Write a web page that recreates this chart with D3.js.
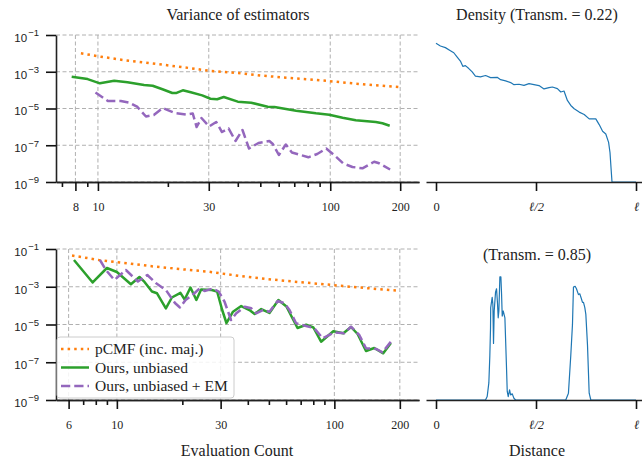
<!DOCTYPE html>
<html>
<head>
<meta charset="utf-8">
<script src="https://cdn.jsdelivr.net/npm/d3@7"></script>
<style>
  body { margin: 0; background: #fff; }
  svg { font-family: "Liberation Serif", "DejaVu Serif", serif; }
</style>
</head>
<body>
<svg id="chart" width="642" height="460"></svg>
<script>
// ---- data ----

// top row: variance vs evaluation count
const topPcmfN = [8.45, 10.3, 12.8, 15.6, 19.0, 23.4, 29.9, 41.5, 51.1, 64.7, 79.6, 99, 124, 157, 202];
const topPcmfV = [1.01e-2, 6.6e-3, 4.36e-3, 3.27e-3, 2.42e-3, 1.75e-3, 1.14e-3, 8.2e-4, 6.1e-4, 4.75e-4, 3.9e-4, 3.1e-4, 2.35e-4, 1.83e-4, 1.43e-4];

const topOursN = [7.71, 9.03, 10.2, 11.75, 13.4, 15.8, 17.2, 18.96, 20.9, 21.8, 23.2, 25.1, 28.1, 30.5, 32.6, 34.8,
                  40.0, 45.7, 53.8, 57.5, 71.3, 86.8, 99, 113, 128.8, 157, 167.7, 180.3];
const topOursV = [5.4e-4, 4.0e-4, 2.35e-4, 3.26e-4, 2.67e-4, 1.9e-4, 1.74e-4, 1.11e-4, 7.0e-5, 7.0e-5, 9.8e-5, 7.6e-5, 5.2e-5, 3.4e-5, 3.2e-5, 4.2e-5,
                  2.35e-5, 2.07e-5, 1.25e-5, 1.21e-5, 7.6e-6, 5.5e-6, 4.6e-6, 3.15e-6, 2.28e-6, 1.84e-6, 1.57e-6, 1.16e-6];

const topEmN = [9.76, 11.04, 12.55, 13.6, 14.8, 16.1, 17.4, 19.0, 21.4, 24.1, 25.6, 26.6, 27.9, 30.1, 32.3, 34.2, 36.5, 39.1,
                41.9, 44.7, 49.1, 54.7, 56.6, 60.1, 64.4, 68.4, 80.5, 87.9, 96.1, 105, 113.7, 124.6, 137.6, 154.5, 162.3, 181];
const topEmV = [7.43e-5, 2.56e-5, 2.56e-5, 2.12e-5, 1.21e-5, 3.67e-6, 4.43e-6, 1.06e-5, 5.7e-6, 4.71e-6, 5.35e-6, 9.8e-7, 3.04e-6, 1.05e-6, 1.84e-6, 5.26e-7, 8.2e-7, 1.7e-7,
                6.76e-7, 6.65e-8, 1.33e-7, 1.7e-7, 1.17e-7, 2.95e-8, 1.1e-7, 4.03e-8, 2.21e-8, 3.34e-8, 6.65e-8, 2.6e-8, 1.02e-8, 6.55e-9, 5.57e-9, 1.27e-8, 1.04e-8, 4.79e-9];

// bottom row
const botPcmfN = [6.22, 8.27, 11.2, 15.1, 20.0, 26.5, 36.7, 48.6, 65.5, 86.9, 117.2, 158, 198.7];
const botPcmfV = [4.53e-2, 2.61e-2, 1.75e-2, 1.15e-2, 8.4e-3, 6.27e-3, 3.71e-3, 2.58e-3, 1.85e-3, 1.4e-3, 1.01e-3, 7.6e-4, 6.18e-4];

const botOursN = [6.35, 7.74, 9.0, 10.0, 11.6, 12.7, 13.4, 14.5, 15.3, 16.8, 17.9, 19.6, 20.5, 21.8, 23.2, 24.4, 27.3, 28.9, 30.5, 31.9,
                  34.2, 37.3, 40.7, 43.0, 46.1, 50.3, 55.3, 60.2, 67.7, 74.2, 80.1, 86.9, 98.9, 110, 119.3, 127.9, 139.8, 152.6, 167.8, 182];
const botOursV = [2.61e-2, 1.68e-3, 9.85e-3, 6.04e-3, 1.36e-3, 3.29e-3, 1.79e-3, 5.6e-4, 4.5e-4, 7.2e-5, 2.69e-4, 4.78e-4, 2.11e-4, 9.1e-4, 1.99e-4, 7.15e-4, 6.73e-4, 5.6e-4, 5.86e-5, 1.2e-5,
                  4.77e-5, 9.55e-5, 5.86e-5, 3.6e-5, 6.62e-5, 4.07e-5, 1.99e-4, 9.0e-5, 6.53e-6, 9.75e-6, 6.93e-6, 1.23e-6, 4.42e-6, 3.42e-6, 7.38e-6, 3.14e-6, 3.94e-7, 5.69e-7, 2.98e-7, 1.05e-6];

const botEmN = [8.36, 8.9, 9.74, 11.0, 12.5, 13.8, 15.1, 16.8, 18.5, 19.5, 20.7, 21.6, 22.8, 24.0, 25.3, 27.6, 29.4, 31.3, 33.5, 35.4,
                38.7, 41.5, 43.7, 46.9, 50.3, 54.9, 58.9, 62.2, 66.7, 74.2, 80.9, 88.4, 100, 111, 119.3, 130.2, 139.8, 155.4, 166.6, 182];
const botEmV = [2.61e-2, 7.72e-3, 2.28e-3, 7.72e-3, 1.9e-3, 4.19e-3, 1.58e-3, 6.73e-4, 1.38e-4, 7.96e-5, 1.99e-4, 2.86e-4, 4.67e-4, 8.07e-4, 5.96e-4, 8.07e-4, 5.6e-4, 1.56e-4, 1.73e-5, 3.92e-5,
                8.77e-5, 7.2e-5, 3.92e-5, 5.86e-5, 4.77e-5, 1.76e-4, 1.33e-4, 5.86e-5, 1.16e-5, 8.33e-6, 6.3e-6, 1.86e-6, 3.86e-6, 3.42e-6, 7.64e-6, 2.78e-6, 5.48e-7, 5.04e-7, 3.37e-7, 1.23e-6];

// right column: density along the ray (distance as fraction of l)
const densTopT = [0, 0.022, 0.047, 0.072, 0.089, 0.105, 0.122, 0.134, 0.147, 0.164, 0.181, 0.197, 0.222, 0.248, 0.273, 0.306,
                  0.323, 0.348, 0.373, 0.390, 0.415, 0.440, 0.465, 0.490, 0.515, 0.540, 0.565, 0.582, 0.607, 0.624, 0.640, 0.657,
                  0.674, 0.691, 0.716, 0.741, 0.766, 0.799, 0.816, 0.833, 0.849, 0.863, 0.870, 0.875, 0.880, 1.0];
const densTopD = [1.0, 0.981, 0.969, 0.947, 0.932, 0.903, 0.872, 0.834, 0.839, 0.818, 0.794, 0.763, 0.758, 0.768, 0.753, 0.755,
                  0.738, 0.729, 0.717, 0.702, 0.705, 0.697, 0.709, 0.702, 0.695, 0.671, 0.680, 0.685, 0.673, 0.649, 0.656, 0.588,
                  0.552, 0.528, 0.504, 0.487, 0.455, 0.455, 0.414, 0.366, 0.346, 0.286, 0.213, 0.104, 0, 0];

const densBotT = [0, 0.2475, 0.2559, 0.2642, 0.2692, 0.2726, 0.2735, 0.2809, 0.2843, 0.2876, 0.291, 0.2977, 0.3027, 0.3077, 0.311,
                  0.3144, 0.3194, 0.3244, 0.3278, 0.3311, 0.3361, 0.3445, 0.3478, 0.3528, 0.3562, 0.3612, 0.3679, 0.3729, 0.3813,
                  0.3896, 0.398, 0.6488, 0.6622, 0.6739, 0.6823, 0.6873, 0.6957, 0.7023, 0.7124, 0.7191, 0.7274, 0.7324, 0.7375,
                  0.7441, 0.7492, 0.7575, 0.7659, 0.7742, 1.0];
const densBotD = [0, 0, 0.024, 0.120, 0.3125, 0.505, 0.649, 0.721, 0.673, 0.397, 0.625, 0.757, 0.781, 0.673, 0.577,
                  0.625, 0.865, 0.865, 0.745, 0.589, 0.625, 0.577, 0.433, 0.216, 0.060, 0.024, 0.072, 0.036, 0.043,
                  0.012, 0, 0, 0.048, 0.3125, 0.529, 0.793, 0.798, 0.781, 0.740, 0.745, 0.709, 0.685, 0.685,
                  0.649, 0.601, 0.385, 0.048, 0, 0];

// ticks and labels
const yTickVals = [1e-1, 1e-3, 1e-5, 1e-7, 1e-9];
const topMajor = [8, 10, 30, 100, 200];
const topMinor = [7, 9, 20, 40, 50, 60, 70, 80, 90];
const botMajor = [6, 10, 30, 100, 200];
const botMinor = [7, 8, 9, 20, 40, 50, 60, 70, 80, 90];
const distTicks = [0, 0.5, 1];
const distLabels = ["0", "ℓ/2", "ℓ"];
const seriesNames = ["pCMF (inc. maj.)", "Ours, unbiased", "Ours, unbiased + EM"];

// ---- drawing ----
const svg = d3.select('#chart');
const col = { pcmf: '#ff7f0e', ours: '#2ca02c', em: '#9467bd', dens: '#1f77b4' };
const styles = [
  { color: col.pcmf, dash: '2.5,4.1', width: 2.5 },
  { color: col.ours, dash: null, width: 2.5 },
  { color: col.em, dash: '9.25,4', width: 2.5 }
];

function styleAxis(g) {
  g.select('.domain').attr('stroke', '#222').attr('stroke-width', 1.6);
  g.selectAll('.tick line').attr('stroke', '#111').attr('stroke-width', 1.6);
  g.selectAll('.tick text').attr('fill', '#222').attr('font-family', '"Liberation Serif", serif');
}

function variancePanel(top, bottom, xDomain, major, minor, series) {
  const x = d3.scaleLog().domain(xDomain).range([56, 419]);
  const y = d3.scaleLog().domain([1e-9, 1e-1]).range([bottom, top]);
  const g = svg.append('g');

  // grid
  g.selectAll('line.vg').data(major).join('line')
    .attr('x1', d => x(d)).attr('x2', d => x(d)).attr('y1', top).attr('y2', bottom)
    .attr('stroke', '#b0b0b0').attr('stroke-width', 1).attr('stroke-dasharray', '4,2.5');
  g.selectAll('line.hg').data(yTickVals).join('line')
    .attr('x1', 56).attr('x2', 419).attr('y1', d => y(d)).attr('y2', d => y(d))
    .attr('stroke', '#b0b0b0').attr('stroke-width', 1).attr('stroke-dasharray', '4,2.5');

  // series
  const line = d3.line().x(d => x(d[0])).y(d => y(d[1]));
  series.forEach((s, i) => {
    const pts = s[0].map((n, k) => [n, s[1][k]]);
    g.append('path').datum(pts).attr('d', line)
      .attr('fill', 'none').attr('stroke', styles[i].color).attr('stroke-width', styles[i].width)
      .attr('stroke-dasharray', styles[i].dash).attr('stroke-linejoin', 'round');
  });

  // x axis: minor then major
  g.append('g').attr('transform', `translate(0,${bottom})`)
    .call(d3.axisBottom(x).tickValues(minor).tickSize(5).tickFormat('').tickSizeOuter(0))
    .call(styleAxis);
  g.append('g').attr('transform', `translate(0,${bottom})`)
    .call(d3.axisBottom(x).tickValues(major).tickSize(9).tickPadding(11).tickFormat(d3.format('d')).tickSizeOuter(0))
    .call(styleAxis)
    .call(a => a.selectAll('.tick text').attr('font-size', 12));

  // y axis with power-of-ten labels
  const ya = g.append('g').attr('transform', 'translate(56,0)')
    .call(d3.axisLeft(y).tickValues(yTickVals).tickSize(10).tickFormat('').tickSizeOuter(0))
    .call(styleAxis);
  ya.selectAll('.tick').append('text')
    .attr('x', -17).attr('y', 6.3).attr('text-anchor', 'end').attr('fill', '#222').attr('font-size', 11.5)
    .each(function (d) {
      const t = d3.select(this);
      t.append('tspan').text('10');
      t.append('tspan').attr('dx', 1).attr('dy', -5.5).attr('font-size', 9.5).text('−' + Math.round(-Math.log10(d)));
    });
  return { x, y, g };
}

function densityPanel(top, bottom, t, dens) {
  const x = d3.scaleLinear().domain([-0.05, 1.05]).range([426, 646]);
  const y = d3.scaleLinear().domain([0, 1.06]).range([bottom, top]);
  const g = svg.append('g');
  const pts = t.map((v, k) => [v, dens[k]]);
  g.append('path').datum(pts)
    .attr('d', d3.line().x(d => x(d[0])).y(d => y(d[1])))
    .attr('fill', 'none').attr('stroke', col.dens).attr('stroke-width', 1.2).attr('stroke-linejoin', 'round');
  g.append('g').attr('transform', `translate(0,${bottom})`)
    .call(d3.axisBottom(x).tickValues(distTicks).tickSize(9).tickPadding(11).tickSizeOuter(0)
      .tickFormat((d, i) => distLabels[i]))
    .call(styleAxis)
    .call(a => a.selectAll('.tick text').attr('font-size', 12.5).attr('font-style', (d, i) => i ? 'italic' : null));
}

variancePanel(35, 182, [6.6, 241], topMajor, topMinor,
  [[topPcmfN, topPcmfV], [topOursN, topOursV], [topEmN, topEmV]]);
variancePanel(249, 400, [5.25, 245], botMajor, botMinor,
  [[botPcmfN, botPcmfV], [botOursN, botOursV], [botEmN, botEmV]]);
densityPanel(35, 182, densTopT, densTopD);
densityPanel(249, 400, densBotT, densBotD);

// titles and axis labels
const txt = (x, y, s) => svg.append('text').attr('x', x).attr('y', y).attr('text-anchor', 'middle')
  .attr('font-size', 16).attr('fill', '#222').text(s);
txt(238, 20, 'Variance of estimators');
txt(537, 20, 'Density (Transm. = 0.22)');
txt(537, 260, '(Transm. = 0.85)');
txt(237, 456, 'Evaluation Count');
txt(537, 456, 'Distance');

// legend
const lg = svg.append('g').attr('transform', 'translate(57,337)');
lg.append('rect').attr('width', 177).attr('height', 61).attr('rx', 3)
  .attr('fill', 'white').attr('fill-opacity', 0.85).attr('stroke', '#cccccc');
seriesNames.forEach((name, i) => {
  const yy = 12 + i * 18.5;
  lg.append('line').attr('x1', 4).attr('x2', 32).attr('y1', yy).attr('y2', yy)
    .attr('stroke', styles[i].color).attr('stroke-width', styles[i].width).attr('stroke-dasharray', styles[i].dash);
  lg.append('text').attr('x', 38).attr('y', yy + 5).attr('font-size', 15.5).attr('fill', '#222').text(name);
});
</script>
</body>
</html>
